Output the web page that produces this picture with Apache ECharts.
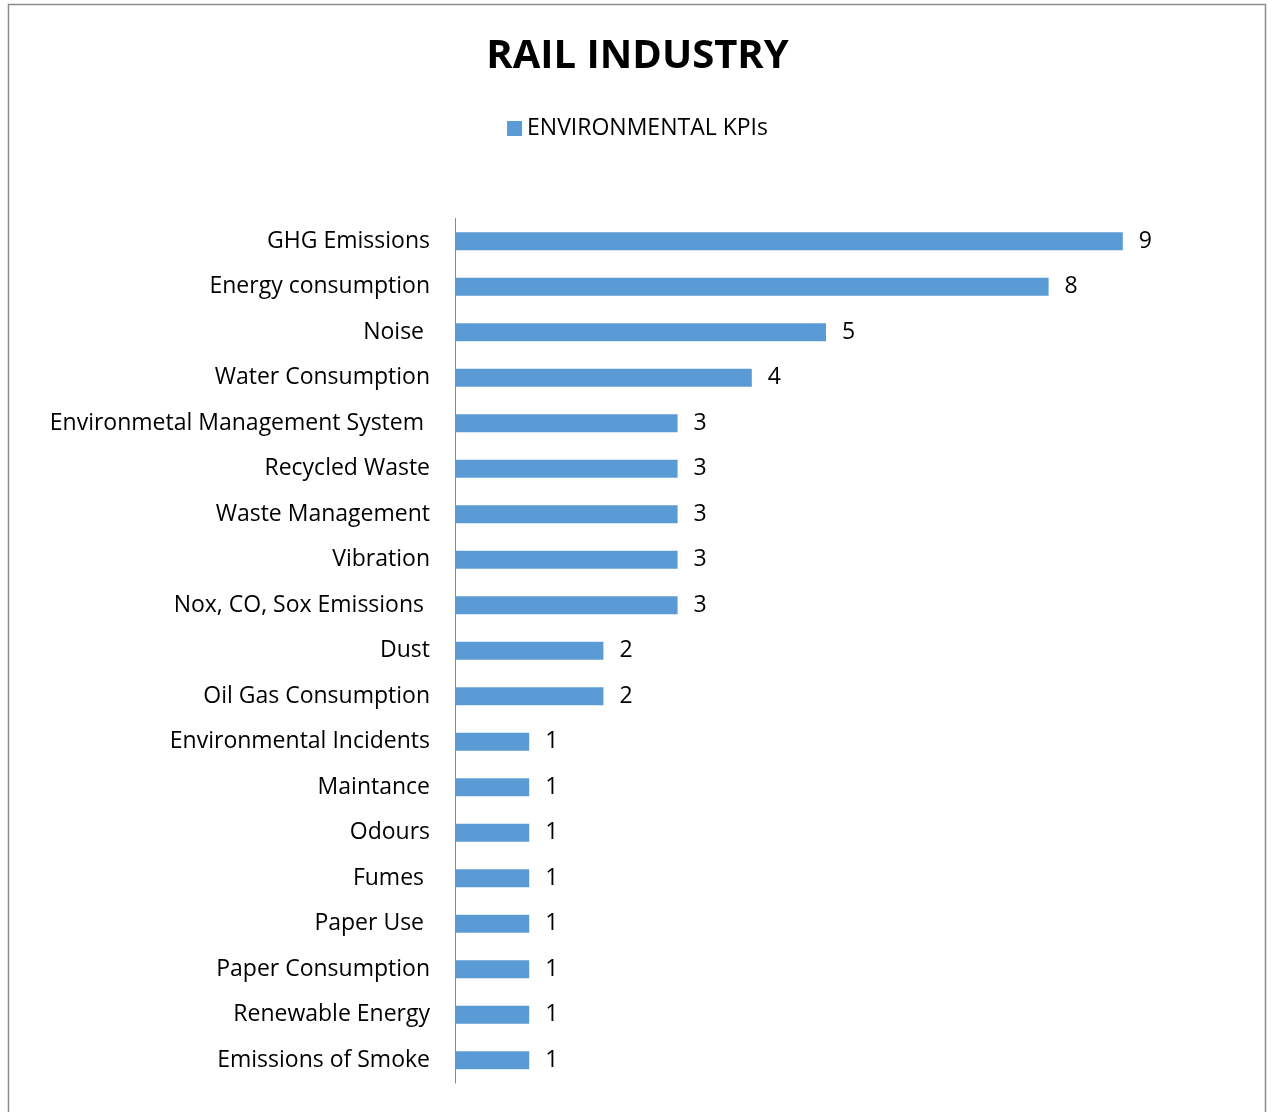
<!DOCTYPE html>
<html>
<head>
<meta charset="utf-8">
<script src="https://cdn.jsdelivr.net/npm/echarts@6/dist/echarts.min.js"></script>
<style>
  html, body { margin: 0; padding: 0; background: #fff; }
  #chart { width: 1275px; height: 1112px; }
</style>
</head>
<body>
<div id="chart"></div>
<script>
// KPI names (top to bottom) and how often each is reported
const categories = [
  'GHG Emissions', 'Energy consumption', 'Noise ', 'Water Consumption',
  'Environmetal Management System ', 'Recycled Waste', 'Waste Management',
  'Vibration', 'Nox, CO, Sox Emissions ', 'Dust', 'Oil Gas Consumption',
  'Environmental Incidents', 'Maintance', 'Odours', 'Fumes ', 'Paper Use ',
  'Paper Consumption', 'Renewable Energy', 'Emissions of Smoke'
];
const values = [9, 8, 5, 4, 3, 3, 3, 3, 3, 2, 2, 1, 1, 1, 1, 1, 1, 1, 1];
const seriesName = 'ENVIRONMENTAL KPIs';

const font = '"Open Sans", "Liberation Sans", sans-serif';
const chart = echarts.init(document.getElementById('chart'), null, { renderer: 'canvas' });

chart.setOption({
  animation: false,
  backgroundColor: '#fff',
  textStyle: { fontFamily: font },
  graphic: [{
    type: 'rect',
    shape: { x: 8.5, y: 4.5, width: 1257, height: 1120 },
    style: { fill: 'none', stroke: '#8c8c8c', lineWidth: 1.5 },
    silent: true
  }],
  title: {
    text: 'RAIL INDUSTRY',
    left: 'center',
    top: 32,
    textStyle: { fontFamily: font, fontWeight: 'bold', fontSize: 40, color: '#000' }
  },
  legend: {
    data: [seriesName],
    top: 112,
    left: 'center',
    icon: 'rect',
    itemWidth: 15,
    itemHeight: 15,
    itemGap: 7,
    textStyle: { fontFamily: font, fontSize: 23, color: '#000' }
  },
  grid: { left: 455, right: 78, top: 218.5, height: 864.5, containLabel: false },
  xAxis: {
    type: 'value',
    min: 0,
    max: 10,
    show: false
  },
  yAxis: {
    type: 'category',
    inverse: true,
    data: categories,
    axisLine: { show: true, lineStyle: { color: '#888', width: 1 } },
    axisTick: { show: false },
    axisLabel: { fontFamily: font, fontSize: 23, color: '#000', margin: 25, padding: [7, 0, 0, 0] }
  },
  series: [{
    name: seriesName,
    type: 'bar',
    data: values,
    barWidth: 18,
    itemStyle: { color: '#5b9bd5' },
    label: {
      show: true,
      position: 'right',
      distance: 16,
      padding: [7, 0, 0, 0],
      fontFamily: font,
      fontSize: 23,
      color: '#000'
    }
  }]
});
</script>
</body>
</html>
